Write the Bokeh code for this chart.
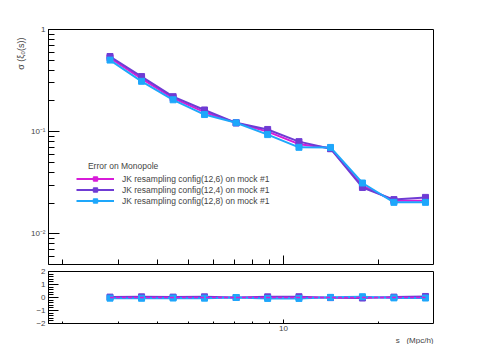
from bokeh.plotting import figure
from bokeh.models import (Legend, LegendItem, Label, Range1d, LogTicker,
                          SingleIntervalTicker, FixedTicker, Title)
from bokeh.layouts import column
from bokeh.embed import file_html
from bokeh.resources import INLINE

# ---------------- data ----------------
s = [2.82, 3.55, 4.47, 5.62, 7.08, 8.91, 11.2, 14.1, 17.8, 22.4, 28.2]
sig_12_6 = [0.526, 0.331, 0.213, 0.155, 0.122, 0.100, 0.0754, 0.069, 0.0295, 0.0210, 0.0211]
sig_12_4 = [0.544, 0.346, 0.220, 0.163, 0.122, 0.105, 0.0798, 0.068, 0.0284, 0.0216, 0.0227]
sig_12_8 = [0.502, 0.311, 0.205, 0.147, 0.122, 0.0935, 0.0702, 0.070, 0.0314, 0.0203, 0.0203]

res_12_6 = [0.0, 0.0, 0.0, 0.0, 0.0, 0.0, 0.0, 0.0, 0.0, 0.0, 0.0]
res_12_4 = [0.03, 0.05, 0.03, 0.05, 0.0, 0.05, 0.06, -0.01, -0.04, 0.03, 0.08]
res_12_8 = [-0.05, -0.06, -0.04, -0.05, 0.0, -0.07, -0.07, 0.01, 0.06, -0.03, -0.04]

x_major = [10]
x_minor = [2, 3, 4, 5, 6, 7, 8, 9, 20, 30]

labels = ["JK resampling config(12,6) on mock #1",
          "JK resampling config(12,4) on mock #1",
          "JK resampling config(12,8) on mock #1"]
colors = ["#d81bd8", "#6f3bd4", "#1ea7fb"]

FONT = "Liberation Sans"

# ---------------- top pad ----------------
p1 = figure(width=449, height=268, x_axis_type="log", y_axis_type="log",
            x_range=Range1d(1.8, 29.9), y_range=Range1d(0.005, 1.0),
            output_backend="svg", toolbar_location=None,
            min_border_left=48, min_border_right=16, min_border_top=29,
            min_border_bottom=4)
p1.grid.visible = False
p1.outline_line_color = "black"
p1.outline_line_width = 1
p1.background_fill_color = "white"
p1.border_fill_color = "white"

ya = p1.yaxis[0]
ya.ticker = LogTicker(num_minor_ticks=10)
ya.axis_line_color = None
ya.major_tick_in = 11
ya.major_tick_out = 0
ya.minor_tick_in = 6
ya.minor_tick_out = 0
ya.major_label_overrides = {1: "1", 0.1: "10\u207b\u00b9", 0.01: "10\u207b\u00b2"}
ya.major_label_text_font = FONT
ya.major_label_text_font_size = "8px"
ya.major_label_standoff = 3

xa = p1.xaxis[0]
xa.ticker = FixedTicker(ticks=x_major, minor_ticks=x_minor)
xa.axis_line_color = None
xa.major_tick_in = 9
xa.major_tick_out = 0
xa.minor_tick_in = 5
xa.minor_tick_out = 0
xa.major_label_text_font_size = "1px"
xa.major_label_text_alpha = 0
xa.major_label_standoff = 0

items = []
for ys, c, lab in zip([sig_12_6, sig_12_4, sig_12_8], colors, labels):
    r1 = p1.line(s, ys, line_color=c, line_width=2)
    r2 = p1.scatter(s, ys, marker="square", size=6, fill_color=c, line_color=c)
    items.append(LegendItem(label=lab, renderers=[r1, r2]))

legend = Legend(items=items, location=(28, 58), border_line_color=None,
                background_fill_alpha=0, padding=0, margin=0, spacing=0,
                glyph_width=38, glyph_height=11, label_height=11,
                label_standoff=8, label_text_font=FONT,
                label_text_font_size="8.5px")
p1.add_layout(legend)

p1.add_layout(Label(x=2.40, y=0.0464, text="Error on Monopole",
                    text_font=FONT, text_font_size="8.5px",
                    text_baseline="middle", text_align="left"))

p1.add_layout(Title(text="\u03c3 (\u03be\u2080(s))", align="right", offset=8,
                    text_font=FONT, text_font_size="9px",
                    text_font_style="normal", standoff=4), "left")

# ---------------- bottom pad ----------------
p2 = figure(width=449, height=76, x_axis_type="log",
            x_range=p1.x_range, y_range=Range1d(-2, 2),
            output_backend="svg", toolbar_location=None,
            min_border_left=48, min_border_right=16, min_border_top=3,
            min_border_bottom=18)
p2.grid.visible = False
p2.outline_line_color = "black"
p2.background_fill_color = "white"
p2.border_fill_color = "white"

ya2 = p2.yaxis[0]
ya2.ticker = SingleIntervalTicker(interval=1, num_minor_ticks=5)
ya2.axis_line_color = None
ya2.major_tick_in = 10
ya2.major_tick_out = 0
ya2.minor_tick_in = 5
ya2.minor_tick_out = 0
ya2.major_label_text_font = FONT
ya2.major_label_text_font_size = "8px"
ya2.major_label_standoff = 3
ya2.major_label_overrides = {-1: "\u22121", -2: "\u22122"}

xa2 = p2.xaxis[0]
xa2.ticker = FixedTicker(ticks=x_major, minor_ticks=x_minor)
xa2.axis_line_color = None
xa2.major_tick_in = 4
xa2.major_tick_out = 0
xa2.minor_tick_in = 2
xa2.minor_tick_out = 0
xa2.major_label_overrides = {10: "10"}
xa2.major_label_text_font = FONT
xa2.major_label_text_font_size = "8px"
xa2.major_label_standoff = 2

p2.line(s, res_12_4, line_color=colors[1], line_width=2)
p2.scatter(s, res_12_4, marker="square", size=6, fill_color=colors[1], line_color=colors[1])
p2.line(s, res_12_8, line_color=colors[2], line_width=2)
p2.scatter(s, res_12_8, marker="square", size=6, fill_color=colors[2], line_color=colors[2])
p2.line(s, res_12_6, line_color=colors[0], line_width=1.5, line_dash="4 2")

p2.add_layout(Title(text="s\u00a0\u00a0\u00a0(Mpc/h)", align="right",
                    text_font=FONT, text_font_size="8px",
                    text_font_style="normal", standoff=0), "below")

layout = column(p1, p2)
open("out.html", "w").write(file_html(layout, INLINE))
